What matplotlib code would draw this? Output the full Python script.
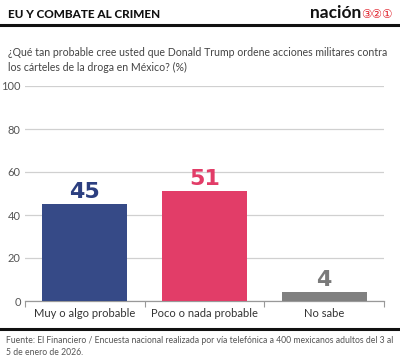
import matplotlib
matplotlib.use("Agg")
import matplotlib.pyplot as plt
from matplotlib.lines import Line2D

categories = ["Muy o algo probable", "Poco o nada probable", "No sabe"]
values = [45, 51, 4]
colors = ["#364a87", "#e23d68", "#808080"]
label_colors = ["#2c3f80", "#e23d68", "#7a7a7a"]
yticks = [0, 20, 40, 60, 80, 100]

header = "EU Y COMBATE AL CRIMEN"
question = "¿Qué tan probable cree usted que Donald Trump ordene acciones militares contra\nlos cárteles de la droga en México? (%)"
source = "Fuente: El Financiero / Encuesta nacional realizada por vía telefónica a 400 mexicanos adultos del 3 al\n5 de enero de 2026."

plt.rcParams['font.family'] = ['Lato', 'DejaVu Sans']

fig = plt.figure(figsize=(4.0, 3.62), dpi=100)
W, H = 400, 362
def fx(px): return px / W
def fy(py): return 1 - py / H

ax = fig.add_axes([fx(25), fy(301), fx(384) - fx(25), fy(86) - fy(301)])
x = range(len(categories))
ax.bar(x, values, width=0.71, color=colors, zorder=3)
for i, v in enumerate(values):
    ax.text(i, v + 1.0, str(v), ha="center", va="bottom", fontsize=16,
            fontweight="bold", color=label_colors[i], zorder=4,
            family=["DejaVu Sans"])

ax.set_xlim(-0.5, 2.5)
ax.set_ylim(0, 100)
ax.set_yticks(yticks)
ax.set_yticklabels([str(t) for t in yticks], fontsize=8, color="#555555")
ax.yaxis.grid(True, color="#d0d0d0", linewidth=0.9, zorder=0)
ax.set_xticks([-0.5, 0.5, 1.5, 2.5], minor=False)
ax.set_xticklabels([])
ax.set_xticks(list(x), minor=True)
ax.set_xticklabels(categories, minor=True, fontsize=8, color="#333333")
ax.tick_params(axis="x", which="major", length=4, color="#999999", width=0.8)
ax.tick_params(axis="x", which="minor", length=0, pad=5)
ax.tick_params(axis="y", length=0, pad=3)
for s in ["top", "right", "left"]:
    ax.spines[s].set_visible(False)
ax.spines["bottom"].set_color("#999999")
ax.spines["bottom"].set_linewidth(0.9)
ax.set_axisbelow(True)

fig.text(fx(8), fy(15), header, fontsize=8.5, fontweight="black", color="#111111",
         va="center", ha="left")
fig.text(fx(361), fy(13), "nación", fontsize=12.5, fontweight="bold", color="#111111",
         va="center", ha="right")
fig.text(fx(361), fy(14.5), "③②①", fontsize=8.5, color="#e0202a", va="center", ha="left",
         family=["DejaVu Sans"])
fig.add_artist(Line2D([0, 1], [fy(24.5), fy(24.5)], color="#111111", linewidth=2.2,
                      transform=fig.transFigure))
fig.text(fx(8), fy(60), question, fontsize=7.6, color="#444444", va="center", ha="left",
         linespacing=1.45)
fig.add_artist(Line2D([0, 1], [fy(329), fy(329)], color="#111111", linewidth=2.2,
                      transform=fig.transFigure))
fig.text(fx(6), fy(346.5), source, fontsize=6.2, color="#555555", va="center", ha="left",
         linespacing=1.45)

fig.savefig("out.png", dpi=100)
